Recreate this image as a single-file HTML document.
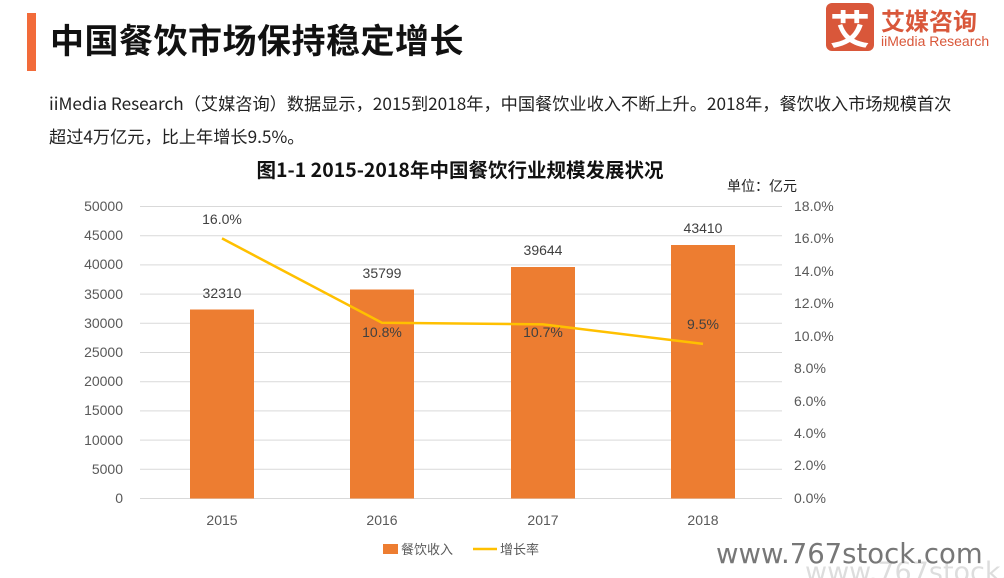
<!DOCTYPE html>
<html><head><meta charset="utf-8"><style>
body{margin:0;width:1004px;height:578px;background:#fff;overflow:hidden;position:relative;font-family:"Liberation Sans","Noto Sans CJK SC",sans-serif;}
.bar{position:absolute;left:27px;top:13px;width:9px;height:58px;background:#f26b3a}
.t{position:absolute;left:50px;top:14px;font-size:34px;font-weight:bold;color:#111;font-family:"Noto Sans CJK SC",sans-serif;letter-spacing:0.5px}
.p{position:absolute;left:49px;font-size:17.2px;color:#222;font-family:"Noto Sans CJK SC",sans-serif;white-space:nowrap}
</style></head><body>
<div class="bar"></div>
<div class="t">中国餐饮市场保持稳定增长</div>
<div class="p" style="top:90px">iiMedia Research（艾媒咨询）数据显示，2015到2018年，中国餐饮业收入不断上升。2018年，餐饮收入市场规模首次</div>
<div class="p" style="top:123px">超过4万亿元，比上年增长9.5%。</div>
<div style="position:absolute;left:826px;top:3px;width:48px;height:48px;background:#d9573a;border-radius:6px;color:#fff;font-size:40px;font-weight:bold;text-align:center;line-height:48px;font-family:'Noto Sans CJK SC',sans-serif">艾</div>
<div style="position:absolute;left:881px;top:2px;font-size:24px;font-weight:bold;color:#d9573a;font-family:'Noto Sans CJK SC',sans-serif">艾媒咨询</div>
<div style="position:absolute;left:881px;top:33px;font-size:14px;color:#d9573a">iiMedia Research</div>
<svg width="1004" height="578" style="position:absolute;left:0;top:0" font-family="Liberation Sans,Noto Sans CJK SC,sans-serif">
<text x="460" y="177" text-anchor="middle" font-size="19.5" font-weight="bold" fill="#111" font-family="Noto Sans CJK SC,sans-serif">图1-1 2015-2018年中国餐饮行业规模发展状况</text>
<text x="727" y="191" font-size="14" fill="#222" font-family="Noto Sans CJK SC,sans-serif">单位：亿元</text>
<g stroke="#d9d9d9" stroke-width="1">
<line x1="140" x2="782" y1="206.5" y2="206.5"/><line x1="140" x2="782" y1="235.7" y2="235.7"/><line x1="140" x2="782" y1="264.9" y2="264.9"/><line x1="140" x2="782" y1="294.1" y2="294.1"/><line x1="140" x2="782" y1="323.3" y2="323.3"/><line x1="140" x2="782" y1="352.5" y2="352.5"/><line x1="140" x2="782" y1="381.7" y2="381.7"/><line x1="140" x2="782" y1="410.9" y2="410.9"/><line x1="140" x2="782" y1="440.1" y2="440.1"/><line x1="140" x2="782" y1="469.3" y2="469.3"/><line x1="140" x2="782" y1="498.5" y2="498.5"/>
</g>
<g font-size="14" fill="#595959" text-anchor="end">
<text x="123" y="211">50000</text><text x="123" y="240">45000</text><text x="123" y="269">40000</text><text x="123" y="299">35000</text><text x="123" y="328">30000</text><text x="123" y="357">25000</text><text x="123" y="386">20000</text><text x="123" y="415">15000</text><text x="123" y="445">10000</text><text x="123" y="474">5000</text><text x="123" y="503">0</text>
</g>
<g font-size="14" fill="#595959" text-anchor="start">
<text x="794" y="211">18.0%</text><text x="794" y="243">16.0%</text><text x="794" y="276">14.0%</text><text x="794" y="308">12.0%</text><text x="794" y="341">10.0%</text><text x="794" y="373">8.0%</text><text x="794" y="406">6.0%</text><text x="794" y="438">4.0%</text><text x="794" y="470">2.0%</text><text x="794" y="503">0.0%</text>
</g>
<g fill="#ed7d31">
<rect x="190" y="309.5" width="64" height="189"/><rect x="350" y="289.5" width="64" height="209"/><rect x="511" y="267" width="64" height="231.5"/><rect x="671" y="245" width="64" height="253.5"/>
</g>
<polyline points="222,238.4 382,322.8 543,324.4 703,343.9" fill="none" stroke="#ffc000" stroke-width="2.5"/>
<g font-size="14" fill="#404040" text-anchor="middle">
<text x="222" y="298">32310</text><text x="382" y="278">35799</text><text x="543" y="255">39644</text><text x="703" y="233">43410</text>
<text x="222" y="224">16.0%</text><text x="382" y="337">10.8%</text><text x="543" y="337">10.7%</text><text x="703" y="329">9.5%</text>
<text x="222" y="525" fill="#595959">2015</text><text x="382" y="525" fill="#595959">2016</text><text x="543" y="525" fill="#595959">2017</text><text x="703" y="525" fill="#595959">2018</text>
</g>
<rect x="383" y="544" width="15" height="10" fill="#ed7d31"/>
<text x="401" y="554" font-size="13" fill="#595959" font-family="Noto Sans CJK SC,sans-serif">餐饮收入</text>
<line x1="473" x2="497" y1="549" y2="549" stroke="#ffc000" stroke-width="2.5"/>
<text x="500" y="554" font-size="13" fill="#595959" font-family="Noto Sans CJK SC,sans-serif">增长率</text>
<text x="805" y="581" font-size="27" fill="#ddd" font-family="DejaVu Sans,sans-serif">www.767stock.com</text>
<text x="716" y="563" font-size="27.5" fill="#777" font-family="DejaVu Sans,sans-serif">www.767stock.com</text>
</svg>
</body></html>
